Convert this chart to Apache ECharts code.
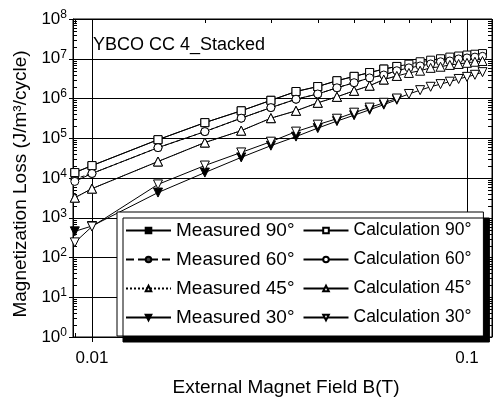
<!DOCTYPE html>
<html><head><meta charset="utf-8">
<script src="https://cdn.jsdelivr.net/npm/echarts@6/dist/echarts.min.js"></script>
<style>html,body{margin:0;padding:0;background:#fff}#c{width:495px;height:402px}</style>
</head><body><div id="c"></div>
<script>
// ---- data ----
const fieldB = [0.009,0.01,0.015,0.02,0.025,0.03,0.035,0.04,0.045,0.05,0.055,0.06,0.065,0.07,0.075,0.08,0.085,0.09,0.095,0.1,0.105,0.11];
const calc90 = [13700,20500,92000,247000,490000,900000,1500000,2000000,2800000,3600000,4500000,5500000,6400000,7300000,8400000,9200000,10000000,11000000,11700000,12400000,13000000,13500000];
const calc60 = [8200,13000,58000,147000,320000,590000,960000,1300000,1860000,2500000,3300000,3900000,5000000,5900000,6600000,7400000,8400000,8800000,9900000,10500000,11000000,11500000];
const calc45 = [3200,5400,26000,78000,155000,320000,490000,780000,1100000,1560000,2100000,3000000,3700000,4400000,5000000,5900000,6300000,7000000,7400000,7900000,8400000,8800000];
const calc30 = [240,600,6900,20600,44000,82000,147000,220000,310000,440000,590000,780000,1000000,1300000,1620000,1970000,2300000,2650000,3100000,3500000,3950000,4600000];
const measB = [0.009,0.01,0.015,0.02,0.025,0.03,0.035,0.04,0.045,0.05,0.055,0.06,0.065];
const meas90 = [13700,20500,92000,247000,490000,900000,1500000,2000000,2800000,3600000,4500000,5500000,6400000];
const meas60 = [9500,13000,58000,147000,320000,590000,960000,1300000,1860000,2500000,3300000,3900000,5000000];
const meas45 = [3200,5400,26000,78000,155000,320000,490000,780000,1100000,1560000,2100000,3000000,3700000];
const meas30 = [455,620,4300,13700,33000,65000,110000,180000,270000,380000,520000,700000,930000];
const xTickLabels = {'0.01':'0.01','0.1':'0.1'};
const xMinorTicks = [0.009,0.02,0.03,0.04,0.05,0.06,0.07,0.08,0.09];
const yDecades = [1,10,100,1000,10000,100000,1000000,10000000];
const yMinorMult = [2,3,4,5,6,7,8,9];

const X_MIN = 0.0089, X_MAX = 0.1166, Y_MIN = 1, Y_MAX = 1e8;
const FONT = '"Liberation Sans", Arial, sans-serif';

function pairs(xs, ys){ return xs.map((x,i)=>[x, ys[i]]); }

const downTri = 'path://M0,0 L10,0 L5,9 Z';

function lineSeries(name, xs, ys, symbol, size, fill, lineType, z){
  return {
    name, type:'line', data: pairs(xs, ys), symbol, symbolSize: size, z,
    showAllSymbol: true, animation:false,
    lineStyle:{color:'#000', width:1, type: lineType},
    itemStyle:{color: fill, borderColor:'#000', borderWidth:1},
    emphasis:{disabled:true}
  };
}

const yMinor = [];
yDecades.forEach(d => yMinorMult.forEach(m => yMinor.push([X_MIN, d*m])));
const xMinor = xMinorTicks.map(x => [x, Y_MIN]);

function yTickRender(params, api){
  const p = api.coord([X_MIN, api.value(1)]);
  const q = api.coord([X_MAX, api.value(1)]);
  const y = Math.round(p[1]) + 0.5;
  return {type:'group', children:[
    {type:'line', shape:{x1:p[0], y1:y, x2:p[0]+4, y2:y}, style:{stroke:'#000', lineWidth:1}},
    {type:'line', shape:{x1:q[0]-4, y1:y, x2:q[0], y2:y}, style:{stroke:'#000', lineWidth:1}}
  ]};
}
function xTickRender(params, api){
  const p = api.coord([api.value(0), Y_MIN]);
  const q = api.coord([api.value(0), Y_MAX]);
  const x = Math.round(p[0]) + 0.5;
  return {type:'group', children:[
    {type:'line', shape:{x1:x, y1:p[1], x2:x, y2:p[1]-4}, style:{stroke:'#000', lineWidth:1}},
    {type:'line', shape:{x1:x, y1:q[1], x2:x, y2:q[1]+4}, style:{stroke:'#000', lineWidth:1}}
  ]};
}

const chart = echarts.init(document.getElementById('c'), null, {renderer:'canvas'});
chart.setOption({
  animation:false,
  backgroundColor:'#fff',
  textStyle:{fontFamily: FONT, color:'#000'},
  title:{text:'YBCO CC 4_Stacked', left:88, top:31,
    textStyle:{fontFamily:FONT, fontSize:18, fontWeight:'normal', color:'#000'}},
  grid:{left:73, right:3, top:19, bottom:64, show:true, borderColor:'#000', borderWidth:1, containLabel:false},
  xAxis:{type:'log', logBase:10, min:X_MIN, max:X_MAX,
    name:'External Magnet Field B(T)', nameLocation:'middle', nameGap:41,
    nameTextStyle:{fontFamily:FONT, fontSize:19, color:'#000', padding:[0,0,0,7]},
    axisLine:{show:true, lineStyle:{color:'#000', width:1}},
    axisTick:{show:true, inside:false, length:5, lineStyle:{color:'#000'}},
    splitLine:{show:true, lineStyle:{color:'#000', width:1}},
    axisLabel:{showMinLabel:false, showMaxLabel:false, margin:13, fontFamily:FONT, fontSize:17, color:'#000',
      formatter: v => { const k = String(+v.toPrecision(3)); return xTickLabels[k] || ''; }}
  },
  yAxis:{type:'log', logBase:10, min:Y_MIN, max:Y_MAX,
    name:'Magnetization Loss (J/m³/cycle)', nameLocation:'middle', nameGap:43,
    nameTextStyle:{fontFamily:FONT, fontSize:19, color:'#000', padding:[0,12,0,0]},
    axisLine:{show:true, lineStyle:{color:'#000', width:1}},
    axisTick:{show:true, inside:false, length:4, lineStyle:{color:'#000'}},
    splitLine:{show:true, lineStyle:{color:'#000', width:1}},
    axisLabel:{margin:6, fontFamily:FONT, color:'#000',
      formatter: v => '{b|10}{e|' + Math.round(Math.log10(v)) + '}',
      rich:{b:{fontFamily:FONT, fontSize:17, color:'#000'}, e:{fontFamily:FONT, fontSize:12, color:'#000', padding:[0,0,9,0]}}}
  },
  legend:{
    left:117, top:212, width:370, orient:'horizontal',
    itemWidth:45, itemHeight:7, itemGap:8,
    padding:[8,12,8,8],
    backgroundColor:'#fff', borderColor:'#000', borderWidth:1,
    shadowColor:'#000', shadowBlur:0, shadowOffsetX:6, shadowOffsetY:6,
    textStyle:{fontFamily:FONT, fontSize:19, color:'#000', lineHeight:21},
    selectedMode:false,
    data:[
      {name:'Measured 90°'}, {name:'Calculation 90°', textStyle:{fontSize:17.5}},
      {name:'Measured 60°'}, {name:'Calculation 60°', textStyle:{fontSize:17.5}},
      {name:'Measured 45°'}, {name:'Calculation 45°', textStyle:{fontSize:17.5}},
      {name:'Measured 30°'}, {name:'Calculation 30°', textStyle:{fontSize:17.5}}
    ]
  },
  series:[
    {type:'custom', data:yMinor, renderItem:yTickRender, silent:true, clip:false, z:1, animation:false},
    {type:'custom', data:xMinor, renderItem:xTickRender, silent:true, clip:false, z:1, animation:false},
    lineSeries('Measured 90°', measB, meas90, 'rect', 8, '#000', 'solid', 2),
    lineSeries('Measured 60°', measB, meas60, 'circle', 8, '#444', 'dashed', 2),
    lineSeries('Measured 45°', measB, meas45, 'triangle', 9, '#fff', 'dotted', 2),
    lineSeries('Measured 30°', measB, meas30, downTri, 9, '#000', 'solid', 2),
    lineSeries('Calculation 90°', fieldB, calc90, 'rect', 8, '#fff', 'solid', 3),
    lineSeries('Calculation 60°', fieldB, calc60, 'circle', 8, '#fff', 'solid', 3),
    lineSeries('Calculation 45°', fieldB, calc45, 'triangle', 9, '#fff', 'solid', 3),
    lineSeries('Calculation 30°', fieldB, calc30, downTri, 9, '#fff', 'solid', 3)
  ]
});
</script></body></html>
